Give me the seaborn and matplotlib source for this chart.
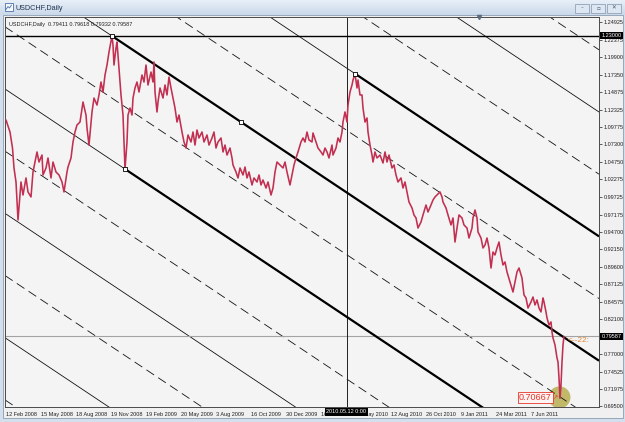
import numpy as np
import matplotlib
matplotlib.use("Agg")
import matplotlib.pyplot as plt
import matplotlib.transforms as mtransforms
from matplotlib.patches import Rectangle
from matplotlib.colors import LinearSegmentedColormap
import seaborn as sns

# ---------------- data ----------------
bars = [0, 8, 13, 16, 20, 24, 30, 34, 40, 44,
        50, 54, 58, 62, 66, 72, 74, 80, 84, 90,
        94, 100, 106, 112, 116, 122, 124, 130, 134, 138,
        142, 148, 154, 160, 162, 166, 172, 176, 182, 186,
        190, 194, 198, 202, 206, 212, 214, 216, 220, 222,
        224, 226, 230, 234, 236, 238, 242, 244, 248, 252,
        254, 258, 262, 266, 272, 276, 280, 284, 290, 294,
        296, 298, 302, 304, 308, 314, 318, 322, 326, 330,
        334, 338, 342, 346, 352, 356, 360, 364, 370, 374,
        378, 382, 386, 392, 396, 402, 406, 412, 416, 420,
        424, 430, 434, 438, 442, 448, 452, 454, 460, 464,
        468, 474, 478, 482, 486, 492, 496, 502, 506, 510,
        514, 520, 524, 530, 534, 538, 542, 548, 554, 558,
        562, 568, 572, 576, 580, 584, 590, 594, 598, 602,
        606, 612, 614, 620, 624, 630, 634, 638, 642, 646,
        652, 654, 660, 664, 668, 672, 674, 678, 682, 684,
        688, 692, 694, 698, 702, 704, 708, 712, 714, 718,
        722, 724, 728, 732, 734, 738, 742, 748, 754, 758,
        762, 766, 772, 776, 780, 784, 790, 794, 798, 802,
        806, 812, 816, 820, 824, 830, 834, 840, 844, 850,
        854, 858, 862, 868, 872, 874, 880, 884, 890, 894,
        898, 902, 906, 912, 916, 922, 926, 932, 934, 938,
        942, 944, 950, 954, 958, 962, 966, 970, 974, 978,
        982, 986, 990, 994, 998, 1002, 1008, 1014, 1018, 1022,
        1026, 1032, 1036, 1040, 1044, 1050, 1054, 1058, 1062, 1066,
        1070, 1074, 1076, 1080, 1082, 1086, 1090, 1092, 1094, 1098,
        1102, 1104, 1106, 1108, 1110, 1112, 1114, 1116]

prices = [1.1081, 1.0908, 1.0677, 1.0389, 1.0187, 0.9639, 1.0187, 0.9999, 1.0245, 1.0043,
          0.9971, 1.0331, 1.0475, 1.0620, 1.0475, 1.0576, 1.0288, 1.0389, 1.0533, 1.0245,
          1.0475, 1.0331, 1.0288, 1.0187, 1.0043, 1.0331, 1.0403, 1.0533, 1.0764, 1.0908,
          1.1009, 1.1052, 1.1341, 1.1153, 1.0966, 1.0720, 1.1197, 1.1398, 1.1297, 1.1442,
          1.1629, 1.1485, 1.1730, 1.1874, 1.2062, 1.2293, 1.2163, 1.1874, 1.2120, 1.2206,
          1.2019, 1.1831, 1.1442, 1.1153, 1.0764, 1.0374, 1.0764, 1.1153, 1.1254, 1.1153,
          1.1398, 1.1543, 1.1629, 1.1485, 1.1730, 1.1629, 1.1874, 1.1586, 1.1773, 1.1629,
          1.1918, 1.1485, 1.1197, 1.1341, 1.1543, 1.1398, 1.1586, 1.1442, 1.1701, 1.1543,
          1.1398, 1.1254, 1.1052, 1.1153, 1.0908, 1.0764, 1.0677, 1.0865, 1.0764, 1.0908,
          1.0720, 1.0937, 1.0822, 1.0908, 1.0764, 1.0865, 1.0720, 1.0822, 1.0908, 1.0677,
          1.0764, 1.0822, 1.0620, 1.0720, 1.0576, 1.0677, 1.0533, 1.0432, 1.0331, 1.0245,
          1.0389, 1.0288, 1.0403, 1.0245, 1.0331, 1.0144, 1.0245, 1.0187, 1.0288, 1.0144,
          1.0216, 1.0100, 1.0187, 0.9999, 1.0100, 1.0331, 1.0475, 1.0432, 1.0389, 1.0475,
          1.0331, 1.0144, 1.0288, 1.0432, 1.0533, 1.0620, 1.0764, 1.0822, 1.0764, 1.0908,
          1.0793, 1.0764, 1.0894, 1.0764, 1.0677, 1.0620, 1.0576, 1.0677, 1.0620, 1.0533,
          1.0720, 1.0576, 1.0677, 1.0822, 1.0764, 1.0908, 1.1052, 1.1197, 1.1052, 1.1297,
          1.1485, 1.1586, 1.1658, 1.1749, 1.1543, 1.1658, 1.1442, 1.1442, 1.1254, 1.1052,
          1.1110, 1.0908, 1.0720, 1.0576, 1.0475, 1.0620, 1.0533, 1.0576, 1.0461, 1.0620,
          1.0475, 1.0576, 1.0389, 1.0432, 1.0288, 1.0187, 1.0245, 1.0100, 1.0187, 1.0043,
          0.9898, 0.9812, 0.9711, 0.9668, 0.9523, 0.9610, 0.9711, 0.9855, 0.9754, 0.9855,
          0.9927, 0.9971, 0.9999, 1.0043, 0.9971, 0.9898, 0.9812, 0.9711, 0.9567, 0.9668,
          0.9321, 0.9523, 0.9711, 0.9668, 0.9567, 0.9523, 0.9379, 0.9523, 0.9668, 0.9783,
          0.9668, 0.9466, 0.9379, 0.9235, 0.9278, 0.9379, 0.9235, 0.8946, 0.9177, 0.9134,
          0.9235, 0.9321, 0.9134, 0.8990, 0.9033, 0.8889, 0.8744, 0.8600, 0.8744, 0.8889,
          0.8946, 0.8802, 0.8557, 0.8514, 0.8369, 0.8456, 0.8528, 0.8413, 0.8485, 0.8369,
          0.8312, 0.8514, 0.8456, 0.8312, 0.8225, 0.8124, 0.8168, 0.8023, 0.7937, 0.7836,
          0.7648, 0.7591, 0.7360, 0.7067, 0.7259, 0.7591, 0.7836, 0.7959]

tick_labels = ["12 Feb 2008", "15 May 2008", "18 Aug 2008", "19 Nov 2008",
               "19 Feb 2009", "20 May 2009", "3 Aug 2009", "16 Oct 2009",
               "30 Dec 2009", "16 Mar 2010", "28 May 2010", "12 Aug 2010",
               "26 Oct 2010", "9 Jan 2011", "24 Mar 2011", "7 Jun 2011"]
bars_per_tick = 70
price_ticks = [1.24925, 1.22375, 1.19900, 1.17350, 1.14875, 1.12325, 1.09775,
               1.07300, 1.04750, 1.02275, 0.99725, 0.97175, 0.94700, 0.92150,
               0.89600, 0.87125, 0.84575, 0.82100, 0.77000, 0.74525, 0.71975,
               0.69500]

# channel anchor points: A (top), B (on top line), C (bottom), D (second top)
anchor_bars = [212, 469, 238, 698]
anchor_prices = [1.2293, 1.1057, 1.0374, 1.1749]

ohlc = [0.79411, 0.79618, 0.79332, 0.79587]
level_price = 1.23000
cursor_bar = 681
cursor_label = "2010.05.12 0:00"
low_bar, low_price = 1107, 0.7080
low_label = "0.70667"
countdown = "<--22:"
shift_bar = 946

# ---------------- figure ----------------
sns.set_style("white")
plt.rcParams["font.family"] = ["Liberation Sans", "DejaVu Sans"]

W, H = 625, 422
fig = plt.figure(figsize=(W / 100, H / 100), dpi=100)
fig.patch.set_facecolor("#d3dfed")

# window chrome (pixel coordinates)
bg = fig.add_axes([0, 0, 1, 1])
bg.set_xlim(0, W)
bg.set_ylim(H, 0)
bg.axis("off")
bg.set_zorder(-5)
grad = np.linspace(0, 1, 30).reshape(-1, 1)
bg.imshow(grad, extent=(0, W, 15, 0), aspect="auto",
          cmap=LinearSegmentedColormap.from_list("tb", ["#e8eff8", "#cbd9ea"]))
bg.add_patch(Rectangle((3, 15), 620, 403, fc="#f0f0f0", ec="#8c9db3", lw=0.6))
bg.add_patch(Rectangle((4.5, 3), 8, 8, fc="#f4f7fb", ec="#4a72a8", lw=0.6))
bg.plot([6, 8, 9.5, 11.5], [9.5, 6.5, 8, 5], color="#4a72a8", lw=0.6)
bg.text(16, 8, "USDCHF,Daily", fontsize=5.2, color="#1e3452", va="center", ha="left")
for i, sym in enumerate(["–", "▫", "✕"]):
    x0 = 575 + 16 * i
    bg.add_patch(Rectangle((x0, 3.5), 14, 9, fc="#dde7f3", ec="#8495aa", lw=0.5))
    bg.text(x0 + 7, 8, sym, fontsize=4, ha="center", va="center", color="#4a5568",
            family=["DejaVu Sans"])

# main chart axes
ax = fig.add_axes([5 / W, 1 - 407 / H, 594 / W, 390 / H])
ax.set_facecolor("#f4f4f4")
xlim = (-2, 1186)
ylim = (0.6941, 1.2567)
ax.set_xlim(*xlim)
ax.set_ylim(*ylim)

# channel lines
aB, bB, cB, dB = anchor_bars
aP, bP, cP, dP = anchor_prices
slope = (bP - aP) / (bB - aB)
half = ((aP + slope * (cB - aB)) - cP) / 2.0
xs = np.array(xlim, dtype=float)
for m in range(-7, 6):
    ys = aP + slope * (xs - aB) + m * half
    if m % 2 == 0:
        ax.plot(xs, ys, color="#111111", lw=0.6, zorder=2)
    else:
        ax.plot(xs, ys, color="#111111", lw=0.6, ls=(0, (11, 6)), zorder=2)
for start, m in [(aB, 0), (cB, -2), (dB, 2)]:
    seg = np.array([start, xlim[1]], dtype=float)
    ax.plot(seg, aP + slope * (seg - aB) + m * half, color="black", lw=1.6,
            solid_capstyle="butt", zorder=2.5)

# horizontal level, bid line, cursor
ax.axhline(level_price, color="black", lw=1.0, zorder=2.2)
ax.axhline(ohlc[3], color="#a3a3a3", lw=0.8, zorder=2.1)
ax.axvline(cursor_bar, color="#202020", lw=0.7, zorder=2.1)

# highlight circle at the low
ax.scatter([low_bar], [low_price], s=250, color="#b8ae52", alpha=0.85,
           edgecolors="none", zorder=1.5)

# price series
sns.lineplot(x=bars, y=prices, ax=ax, color="#c22f50", lw=1.15,
             estimator=None, sort=False, zorder=4)

# anchor squares
ax.scatter(anchor_bars, [aP, aP + slope * (bB - aB), cP, aP + slope * (dB - aB) + 2 * half],
           marker="s", s=7, facecolor="white", edgecolor="black", lw=0.6, zorder=6)

# axes styling
for sp in ax.spines.values():
    sp.set_color("#4a4a4a")
    sp.set_linewidth(0.7)
ax.yaxis.tick_right()
ax.set_yticks(price_ticks)
ax.set_yticklabels([f"{v:.5f}" for v in price_ticks])
ax.set_xticks(np.arange(len(tick_labels)) * bars_per_tick)
ax.set_xticklabels(tick_labels, ha="left")
ax.tick_params(axis="y", length=2, pad=1.5, labelsize=4, colors="#202020", width=0.5)
ax.tick_params(axis="x", length=2.5, pad=1.2, labelsize=4, colors="#202020", width=0.5)
ax.set_xlabel("")
ax.set_ylabel("")

ybl = mtransforms.blended_transform_factory(ax.transAxes, ax.transData)
xbl = mtransforms.blended_transform_factory(ax.transData, ax.transAxes)

for val in [level_price, ohlc[3]]:
    ax.text(1.004, val, f"{val:.5f}", transform=ybl, ha="left", va="center",
            fontsize=4, color="white", clip_on=False, zorder=10,
            bbox=dict(boxstyle="square,pad=0.25", fc="black", ec="none"))

ax.text(cursor_bar, -0.006, cursor_label, transform=xbl, ha="center", va="top",
        fontsize=4, color="white", clip_on=False, zorder=10,
        bbox=dict(boxstyle="square,pad=0.3", fc="black", ec="none"))

ax.text(0.006, 0.988, "USDCHF,Daily  " + " ".join(f"{v:.5f}" for v in ohlc),
        transform=ax.transAxes, ha="left", va="top", fontsize=4, color="#202020")

ax.text(bars[-1] + 8, ohlc[3] - 0.006, countdown, ha="left", va="center",
        fontsize=6, color="#e0893a", clip_on=True, zorder=7)

ax.text(low_bar - 16, low_price, low_label, ha="right", va="center", fontsize=6.5,
        color="#e3352b", zorder=8,
        bbox=dict(boxstyle="square,pad=0.12", fc="#fdf3f2", ec="#e3352b", lw=0.6))
ax.text(low_bar - 15, low_price, "↗", ha="left", va="center", fontsize=4.5,
        color="#e3352b", zorder=8, family=["DejaVu Sans"])

ax.plot([shift_bar], [1.0], marker="v", ms=3, color="#5c6c82", transform=xbl,
        clip_on=False, zorder=9)

fig.savefig("out.png", dpi=100, facecolor=fig.get_facecolor())
